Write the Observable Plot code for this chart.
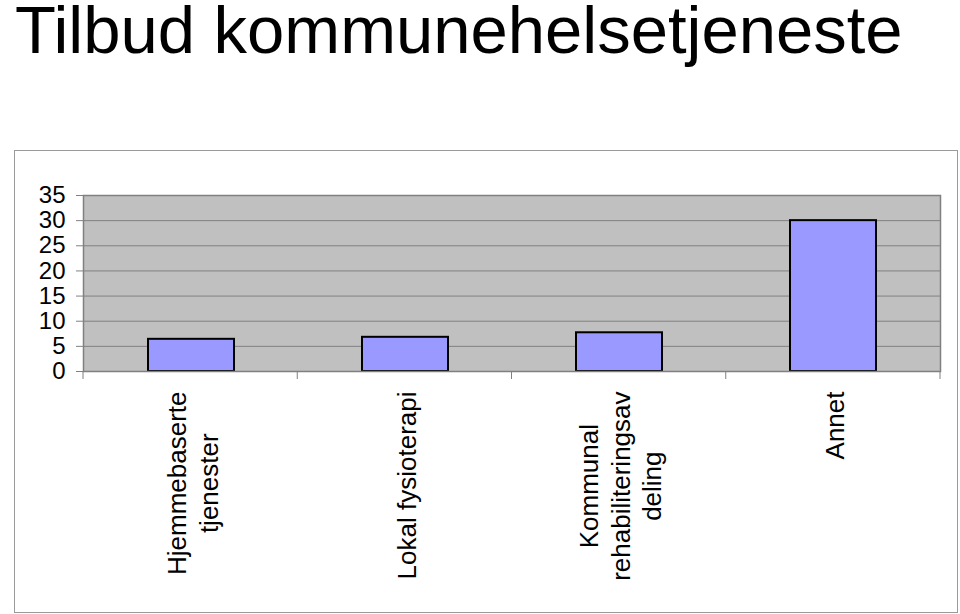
<!DOCTYPE html>
<html>
<head>
<meta charset="utf-8">
<script src="https://cdn.jsdelivr.net/npm/d3@7"></script>
<script src="https://cdn.jsdelivr.net/npm/@observablehq/plot@0.6"></script>
<style>
  html, body { margin: 0; padding: 0; background: #fff; }
  #wrap { position: relative; width: 960px; height: 614px; overflow: hidden; font-family: "Liberation Sans", Arial, sans-serif; }
  #title { position: absolute; left: 15px; top: 0px; font-size: 67px; line-height: 60px; color: #000; white-space: nowrap; }
  #box { position: absolute; left: 14px; top: 150px; width: 944px; height: 463px; box-sizing: border-box; border: 1px solid #9a9a9a; }
  #chart { position: absolute; left: 0; top: 0; }
</style>
</head>
<body>
<div id="wrap">
  <div id="box"></div>
  <div id="title">Tilbud kommunehelsetjeneste</div>
  <div id="chart"></div>
</div>
<script>
const categories = ["Hjemmebaserte tjenester", "Lokal fysioterapi", "Kommunal rehabiliteringsavdeling", "Annet"];
const categoryLabels = ["Hjemmebaserte\ntjenester", "Lokal fysioterapi", "Kommunal\nrehabiliteringsav\ndeling", "Annet"];
const values = [6.4, 6.8, 7.7, 30];
const yTicks = [0, 5, 10, 15, 20, 25, 30, 35];

const data = categories.map((c, i) => ({category: c, value: values[i], label: categoryLabels[i]}));

const labelFont = "26px 'Liberation Sans', Arial, sans-serif";
const ctx = document.createElement("canvas").getContext("2d");
ctx.font = labelFont;
function blockLength(s) {
  return d3.max(s.split("\n"), line => ctx.measureText(line).width);
}

const W = 960, H = 614;
const mL = 83, mR = 20, mT = 195, mB = 243;

function xBoundaryTicks(index, scales, values, dims) {
  const g = d3.create("svg:g");
  const n = categories.length;
  const x0 = dims.marginLeft, x1 = dims.width - dims.marginRight;
  const yb = dims.height - dims.marginBottom;
  for (let i = 0; i <= n; i++) {
    const xp = x0 + (x1 - x0) * i / n;
    g.append("line").attr("x1", xp).attr("x2", xp).attr("y1", yb).attr("y2", yb + 8)
      .attr("stroke", "#808080").attr("stroke-width", 1);
  }
  return g.node();
}

const labelMarks = data.map(d => Plot.text([d], {
  x: "category",
  frameAnchor: "bottom",
  text: "label",
  rotate: -90,
  textAnchor: "middle",
  lineAnchor: "middle",
  lineHeight: 1.22,
  fontSize: 26,
  fill: "#000",
  dy: 20 + blockLength(d.label) / 2
}));

const chart = Plot.plot({
  width: W,
  height: H,
  marginLeft: mL,
  marginRight: mR,
  marginTop: mT,
  marginBottom: mB,
  style: {fontFamily: "'Liberation Sans', Arial, sans-serif", background: "transparent", overflow: "visible"},
  x: {domain: categories, paddingInner: 0.6, paddingOuter: 0.3, axis: null, label: null},
  y: {domain: [0, 35], axis: null, label: null},
  marks: [
    Plot.frame({fill: "#c0c0c0", stroke: "none"}),
    Plot.gridY(yTicks, {stroke: "#808080", strokeOpacity: 1, strokeWidth: 1}),
    Plot.barY(data, {x: "category", y: "value", fill: "#9999ff", stroke: "#000", strokeWidth: 2}),
    Plot.frame({stroke: "#808080", strokeWidth: 1.5}),
    Plot.axisY({ticks: yTicks, label: null, tickSize: 7, tickPadding: 11, fontSize: 24, stroke: "#808080", fill: "#000", tickFormat: d => String(d)}),
    xBoundaryTicks,
    ...labelMarks
  ]
});
document.getElementById("chart").appendChild(chart);
</script>
</body>
</html>
